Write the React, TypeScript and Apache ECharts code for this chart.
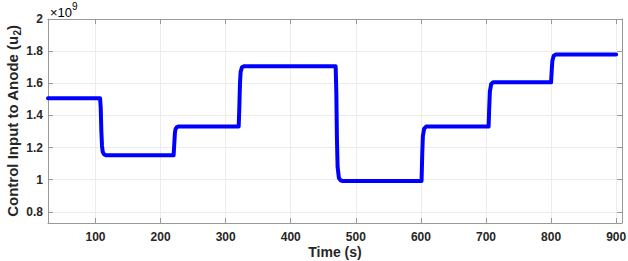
import React, { useEffect, useRef } from "react";
import * as echarts from "echarts";

// Time (s) and control input (x 1e9)
const times = [27, 107, 108, 109, 110, 111, 113, 116, 220, 221, 222, 223, 225, 228, 320, 321, 322, 323, 325, 328, 469, 470, 471, 472, 474, 477, 480, 601, 602, 603, 605, 608, 704, 705, 706, 708, 711, 800, 801, 802, 804, 807, 900];
const values = [1.507, 1.507, 1.45, 1.3, 1.21, 1.175, 1.158, 1.151, 1.151, 1.22, 1.29, 1.315, 1.327, 1.331, 1.331, 1.45, 1.6, 1.67, 1.7, 1.706, 1.706, 1.55, 1.25, 1.08, 1.01, 0.994, 0.992, 0.992, 1.15, 1.27, 1.318, 1.33, 1.33, 1.45, 1.55, 1.595, 1.606, 1.606, 1.68, 1.74, 1.77, 1.779, 1.779];
const xTicks = [100, 200, 300, 400, 500, 600, 700, 800, 900];
const yTicks = [0.8, 1, 1.2, 1.4, 1.6, 1.8, 2];

export default function App() {
  const ref = useRef<HTMLDivElement>(null);
  useEffect(() => {
    const chart = echarts.init(ref.current!, null, { renderer: "svg" });
    const font = "Liberation Sans, Arial, sans-serif";
    const axisColor = "#999999";
    const gridColor = "#ececec";
    const xBase = {
      type: "value" as const,
      min: 27,
      max: 909,
      axisLine: { lineStyle: { color: axisColor, width: 1 } },
      axisTick: { inside: true, length: 5, customValues: xTicks, lineStyle: { color: axisColor } },
    };
    const yBase = {
      type: "value" as const,
      min: 0.73,
      max: 2,
      axisLine: { show: true, lineStyle: { color: axisColor, width: 1 } },
      axisTick: { show: true, inside: true, length: 5, customValues: yTicks, lineStyle: { color: axisColor } },
    };
    chart.setOption({
      animation: false,
      backgroundColor: "#ffffff",
      grid: { left: 48, right: 6, top: 19, bottom: 38, containLabel: false, outerBoundsMode: "none" },
      xAxis: [
        {
          ...xBase,
          position: "bottom",
          name: "Time (s)",
          nameLocation: "middle",
          nameGap: 22,
          nameMoveOverlap: false,
          nameTextStyle: { fontFamily: font, fontWeight: "bold", fontSize: 14, color: "#262626" },
          axisLabel: {
            customValues: xTicks,
            margin: 8,
            fontFamily: font,
            fontWeight: "bold",
            fontSize: 12,
            color: "#262626",
          },
          splitLine: { show: true, lineStyle: { color: gridColor, width: 1 } },
        },
        {
          ...xBase,
          position: "top",
          axisLabel: { show: false },
          splitLine: { show: false },
        },
      ],
      yAxis: [
        {
          ...yBase,
          position: "left",
          name: "{a|Control Input to Anode (u}{s|2}{a|)}",
          nameLocation: "middle",
          nameGap: 26,
          nameMoveOverlap: false,
          nameRotate: 90,
          nameTextStyle: {
            rich: {
              a: { fontFamily: font, fontWeight: "bold", fontSize: 15, color: "#262626", lineHeight: 20 },
              s: { fontFamily: font, fontWeight: "bold", fontSize: 10, color: "#262626", lineHeight: 11, verticalAlign: "bottom" },
            },
          },
          axisLabel: {
            customValues: yTicks,
            margin: 5,
            fontFamily: font,
            fontWeight: "bold",
            fontSize: 12,
            color: "#262626",
            formatter: (v: number) => String(Math.round(v * 10) / 10),
          },
          splitLine: { show: true, lineStyle: { color: gridColor, width: 1 } },
        },
        {
          ...yBase,
          position: "right",
          axisLabel: { show: false },
          splitLine: { show: false },
        },
      ],
      graphic: [
        {
          type: "text",
          left: 50,
          top: 1,
          style: {
            text: "{a|×10}{b|9}",
            rich: {
              a: { fontFamily: font, fontSize: 13, fontWeight: "normal", color: "#262626", lineHeight: 18, verticalAlign: "bottom" },
              b: { fontFamily: font, fontSize: 10, fontWeight: "normal", color: "#262626", lineHeight: 11, verticalAlign: "top" },
            },
          },
        },
      ],
      series: [
        {
          type: "line",
          xAxisIndex: 0,
          yAxisIndex: 0,
          data: times.map((t, i) => [t, values[i]]),
          showSymbol: false,
          symbol: "none",
          lineStyle: { color: "#0000ff", width: 4, join: "round", cap: "round" },
          clip: true,
        },
      ],
    });
    return () => chart.dispose();
  }, []);
  return (
    <div
      ref={ref}
      style={{ position: "fixed", left: 0, top: 0, width: 628, height: 261 }}
    />
  );
}
